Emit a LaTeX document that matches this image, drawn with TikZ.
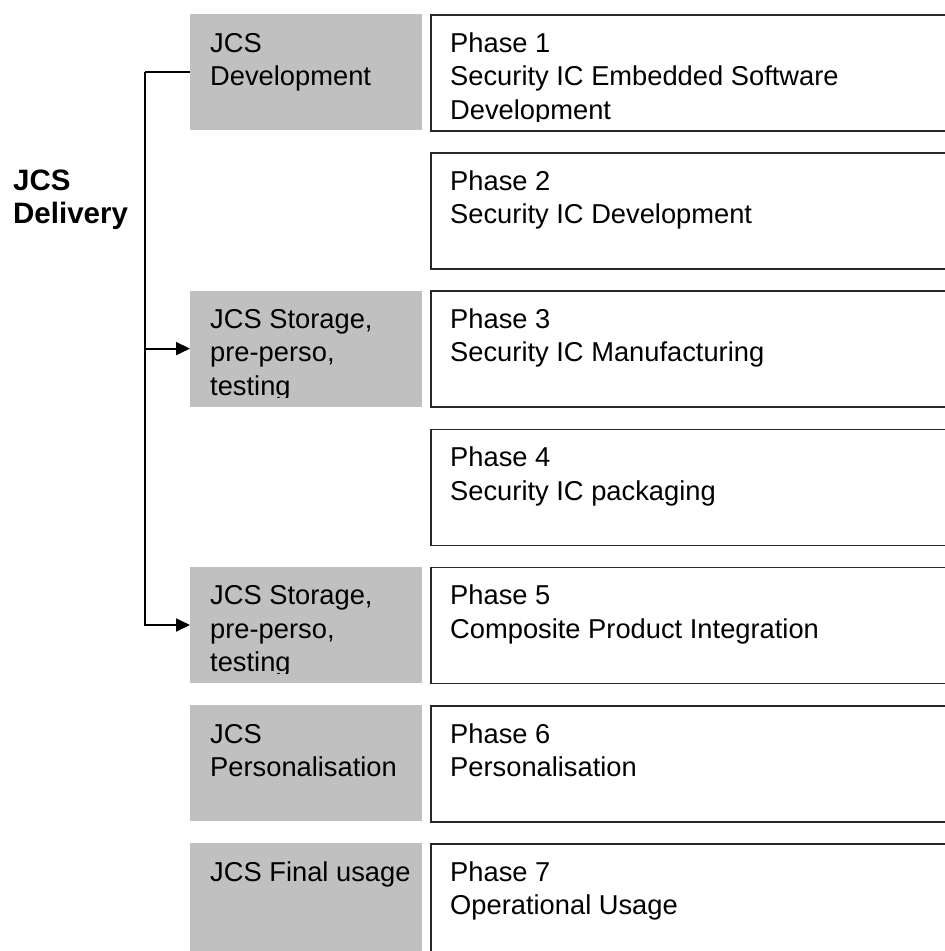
\documentclass[tikz,border=0pt]{standalone}
\usepackage{fontspec}
\setmainfont{Liberation Sans}
\usetikzlibrary{calc,arrows.meta}
\definecolor{jcsgrey}{RGB}{192,192,192}
\definecolor{jcsline}{RGB}{40,40,40}

% text of a box, cut off a little above the bottom edge of the box
\newcommand{\boxtext}[2]{%
  \begin{scope}
    \clip (#1.north west) rectangle ($(#1.north east)+(0,107)$);
    \node[label] (#1-text) at ($(#1.north west)+(20,38)$) {\parbox[t]{500pt}{\raggedright #2}};
  \end{scope}}

\begin{document}
\begin{tikzpicture}[x=1pt, y=-1pt,
  stage/.style={fill=jcsgrey, minimum width=232pt, minimum height=116pt, anchor=north west, inner sep=0pt},
  phase/.style={draw=jcsline, line width=1.5pt, fill=white, minimum width=540pt, minimum height=116pt, anchor=north west, inner sep=0pt},
  label/.style={anchor=base west, inner sep=0pt, font=\fontsize{27.3}{33.5}\selectfont},
  link/.style={line width=1.8pt},
  arr/.style={link, -{Triangle[length=14pt, width=13pt]}}]
\clip (0,0) rectangle (945,951);

% JCS stages (grey)
\node[stage] (dev) at (190,14) {};
\node[stage] (stor1) at (190,290.4) {};
\node[stage] (stor2) at (190,566.8) {};
\node[stage] (pers) at (190,705) {};
\node[stage] (final) at (190,843.2) {};

% Phases (white)
\node[phase] (ph1) at (430,14) {};
\node[phase] (ph2) at (430,152.2) {};
\node[phase] (ph3) at (430,290.4) {};
\node[phase] (ph4) at (430,428.6) {};
\node[phase] (ph5) at (430,566.8) {};
\node[phase] (ph6) at (430,705) {};
\node[phase] (ph7) at (430,843.2) {};

% Texts
\boxtext{dev}{JCS\\Development}
\boxtext{stor1}{JCS Storage,\\pre-perso,\\testing}
\boxtext{stor2}{JCS Storage,\\pre-perso,\\testing}
\boxtext{pers}{JCS\\Personalisation}
\boxtext{final}{JCS Final usage}

\boxtext{ph1}{Phase 1\\Security IC Embedded Software\\Development}
\boxtext{ph2}{Phase 2\\Security IC Development}
\boxtext{ph3}{Phase 3\\Security IC Manufacturing}
\boxtext{ph4}{Phase 4\\Security IC packaging}
\boxtext{ph5}{Phase 5\\Composite Product Integration}
\boxtext{ph6}{Phase 6\\Personalisation}
\boxtext{ph7}{Phase 7\\Operational Usage}

% Delivery label
\node[label, font=\bfseries\fontsize{29.5}{33}\selectfont] (delivery) at (13,190) {\parbox[t]{200pt}{\raggedright JCS\\Delivery}};

% Delivery connectors
\draw[link] (dev.west) -- ++(-45,0) coordinate (bus);
\draw[arr] (bus) |- (stor1.west);
\draw[arr] (bus) |- (stor2.west);
\end{tikzpicture}
\end{document}
